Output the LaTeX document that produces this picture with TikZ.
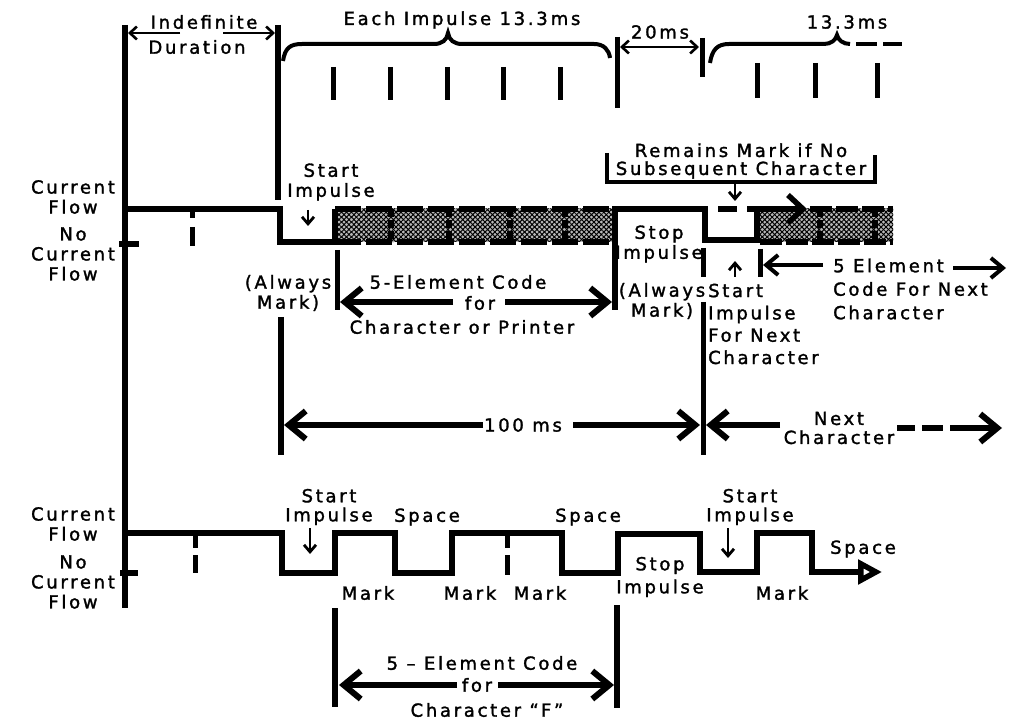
\documentclass[tikz,border=0pt]{standalone}
\usepackage{fontspec}
\setmainfont{DejaVu Sans}
\newfontfamily\lbl[LetterSpace=15,FakeBold=1.6]{DejaVu Sans}
\usetikzlibrary{arrows.meta,patterns.meta}
\begin{document}
\begin{tikzpicture}[x=1pt,y=-1pt,
  txt/.style={font=\lbl\fontsize{18}{20}\selectfont, inner sep=0pt, align=center},
  wave/.style={line width=5.5pt, line join=miter},
  vline/.style={line width=5.5pt},
  tick/.style={line width=5pt},
  thinarr/.style={line width=2.6pt, -{Straight Barb[length=7pt,width=13pt]}},
  smallarr/.style={line width=2.8pt, -{Straight Barb[length=7pt,width=12pt]}},
  medarr/.style={line width=4pt, -{Straight Barb[length=12pt,width=20pt]}},
  bigarr/.style={line width=6pt, -{Straight Barb[length=17pt,width=28pt]}},
  border/.style={line width=5.5pt, dash pattern=on 26pt off 5pt},
  sep/.style={line width=6.5pt, dash pattern=on 8pt off 3pt},
  hatchA/.style={pattern={Lines[angle=45,distance=3.5pt,line width=1pt]}},
  hatchB/.style={pattern={Lines[angle=-45,distance=3.5pt,line width=1pt]}}
]
\useasboundingbox (0,0) rectangle (1013,722);

% ---------- top timing marks ----------
\draw[vline] (125,25) -- (125,608);
\draw[vline] (278,25) -- (278,200);
\draw[tick] (617,37) -- (617,108);
\draw[tick] (702,38) -- (702,77);
\foreach \x in {333,390,447,503,560} \draw[tick] (\x,67) -- (\x,100);
\foreach \x in {757,815,877} \draw[tick] (\x,63) -- (\x,98);

\draw[line width=4pt] (283,61) .. controls (285,48) and (290,44) .. (302,44) -- (434,44)
   .. controls (442,44) and (447,40) .. (448,33) .. controls (449,40) and (454,44) .. (462,44)
   -- (594,44) .. controls (604,44) and (609,50) .. (610,58);
\draw[line width=4pt] (710,63) .. controls (712,50) and (717,44) .. (729,44) -- (824,44)
   .. controls (831,44) and (836,40) .. (837,35) .. controls (838,40) and (843,44) .. (850,44);
\draw[line width=4pt] (856,44) -- (877,44);
\draw[line width=4pt] (883,44) -- (902,44);

\draw[thinarr] (180,33) -- (128,33);
\draw[thinarr] (223,33) -- (275,33);
\draw[line width=2.6pt, {Straight Barb[length=7pt,width=13pt]}-{Straight Barb[length=7pt,width=13pt]}] (620,47) -- (699,47);

\node[txt] (ind) at (204,22) {Indefinite};
\node[txt] (dur) at (197,47) {Duration};
\node[txt] (each) at (462,20) {Each Impulse 13.3\,ms};
\node[txt] (twenty) at (660,32) {20ms};
\node[txt] (thirteen) at (847,22) {13.3ms};

% ---------- middle waveform ----------
\node[txt] (cf1) at (73,197) {Current\\Flow};
\node[txt] (nc1) at (73,254) {No\\Current\\Flow};
\draw[line width=5.5pt] (119,244) -- (139,244);
\draw[tick] (192,211) -- (192,218);
\draw[tick] (192,227) -- (192,246);

\fill[gray!55] (335,209) rectangle (613,242);
\fill[hatchA] (335,209) rectangle (613,242);
\fill[hatchB] (335,209) rectangle (613,242);
\draw[border] (335,209) -- (613,209);
\draw[border] (335,242) -- (613,242);
\foreach \x in {391,449,510,565} \draw[sep] (\x,209) -- (\x,242);

\fill[gray!55] (760,209) rectangle (893,242);
\fill[hatchA] (760,209) rectangle (893,242);
\fill[hatchB] (760,209) rectangle (893,242);
\draw[border, dash pattern=on 22pt off 4pt] (810,209) -- (893,209);
\draw[border, dash pattern=on 22pt off 4pt] (760,242) -- (893,242);
\foreach \x in {820,875} \draw[sep] (\x,209) -- (\x,242);

\draw[wave] (127,209) -- (280,209) -- (280,242) -- (335,242) -- (335,209);
\draw[wave] (613,242) -- (615,242);
\draw[wave] (615,310) -- (615,209) -- (705,209) -- (705,240) -- (757,240) -- (757,209);
\draw[wave] (718,209) -- (737,209);
\draw[line width=5.5pt, -{Straight Barb[length=15pt,width=28pt]}] (747,209) -- (807,209);

\node[txt] (si1) at (331,182) {Start\\Impulse};
\draw[smallarr] (308,210) -- (308,226);

\draw[line width=4.5pt] (607,153) -- (607,182) -- (875,182) -- (875,155);
\node[txt, font=\lbl\fontsize{18}{18}\selectfont] (rem) at (741,161) {Remains Mark if No\\Subsequent Character};
\draw[smallarr] (735,182) -- (735,201);

\node[txt] (stop1) at (659,244) {Stop\\Impulse};
\node[txt] (am1) at (288,293) {(Always\\Mark)};
\node[txt] (am2) at (662,301) {(Always\\Mark)};

\draw[tick] (337,250) -- (337,310);
\draw[bigarr] (453,302) -- (340,302);
\draw[bigarr] (505,302) -- (612,302);
\node[txt] (ec1) at (458,282) {5-Element Code};
\node[txt] (for1) at (480,303) {for};
\node[txt] (cp) at (462,327) {Character or Printer};

\draw[tick] (703,248) -- (703,277);
\draw[tick] (703,302) -- (703,455);
\draw[tick] (760,249) -- (760,277);
\draw[smallarr] (735,277) -- (735,261);
\node[txt, align=left, anchor=west, font=\lbl\fontsize{18}{22.3}\selectfont] (sinext) at (708,324) {Start\\Impulse\\For Next\\Character};

\draw[medarr] (823,265) -- (763,265);
\draw[medarr] (953,268) -- (1006,268);
\node[txt, align=left, anchor=west, font=\lbl\fontsize{18}{23.5}\selectfont] (fiveel) at (833,289) {5 Element\\Code For Next\\Character};

% ---------- 100 ms ----------
\draw[vline] (281,317) -- (281,455);
\draw[bigarr] (483,425) -- (284,425);
\draw[bigarr] (573,425) -- (700,425);
\node[txt] (hund) at (523,425) {100 ms};
\draw[bigarr] (780,425) -- (706,425);
\node[txt, font=\lbl\fontsize{18}{19}\selectfont] (nextc) at (839,428) {Next\\Character};
\draw[line width=6pt] (897,428) -- (915,428);
\draw[line width=6pt] (922,428) -- (943,428);
\draw[bigarr] (950,428) -- (1002,428);

% ---------- bottom waveform ----------
\node[txt] (cf2) at (73,524) {Current\\Flow};
\node[txt] (nc2) at (73,582) {No\\Current\\Flow};
\draw[line width=5.5pt] (120,573) -- (138,573);
\draw[tick] (195,535) -- (195,548);
\draw[tick] (195,555) -- (195,573);
\draw[tick] (507,535) -- (507,548);
\draw[tick] (507,555) -- (507,575);

\draw[wave, -{Triangle[open,fill=white,length=24pt,width=24pt]}] (127,533) -- (282,533) -- (282,573) -- (335,573) -- (335,533)
  -- (395,533) -- (395,573) -- (452,573) -- (452,533) -- (562,533) -- (562,573)
  -- (618,573) -- (618,534) -- (700,534) -- (700,572) -- (757,572) -- (757,533)
  -- (812,533) -- (812,572) -- (882,572);

\node[txt, font=\lbl\fontsize{18}{19}\selectfont] (si2) at (329,507) {Start\\Impulse};
\draw[smallarr] (310,528) -- (310,554);
\node[txt, font=\lbl\fontsize{18}{19}\selectfont] (si3) at (750,507) {Start\\Impulse};
\draw[smallarr] (728,528) -- (728,558);
\node[txt] (sp1) at (427,517) {Space};
\node[txt] (sp2) at (588,517) {Space};
\node[txt] (sp3) at (863,549) {Space};
\node[txt] (mk1) at (368,593) {Mark};
\node[txt] (mk2) at (470,593) {Mark};
\node[txt] (mk3) at (540,593) {Mark};
\node[txt] (mk4) at (782,593) {Mark};
\node[txt, font=\lbl\fontsize{18}{23}\selectfont] (stop2) at (660,577) {Stop\\Impulse};

\draw[vline] (335,608) -- (335,707);
\draw[vline] (617,605) -- (617,708);
\draw[bigarr] (457,685) -- (339,685);
\draw[bigarr] (498,685) -- (614,685);
\node[txt] (ec2) at (482,663) {5 – Element Code};
\node[txt] (for2) at (477,685) {for};
\node[txt] (chf) at (487,710) {Character “F”};
\end{tikzpicture}
\end{document}
